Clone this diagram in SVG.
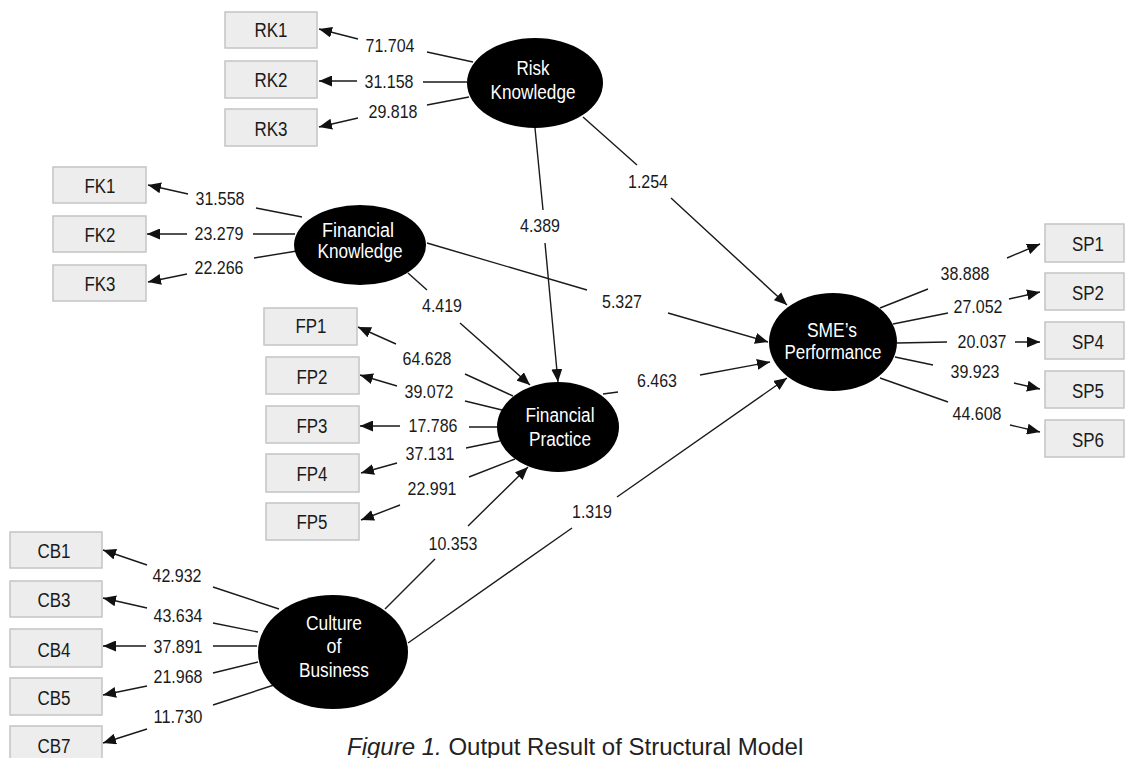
<svg xmlns="http://www.w3.org/2000/svg" width="1125" height="758" viewBox="0 0 1125 758">
<style>
.box{fill:#ededed;stroke:#c4c4c4;stroke-width:1.5}
.lat{fill:#000}
.bt{font-family:"Liberation Sans",Arial,sans-serif;font-size:20px;fill:#1a1a1a;text-anchor:middle}
.lt{font-family:"Liberation Sans",Arial,sans-serif;font-size:20px;fill:#fff;text-anchor:middle}
.num{font-family:"Liberation Sans",Arial,sans-serif;font-size:19px;fill:#1a1a1a;text-anchor:middle}
.con{fill:none;stroke:#1a1a1a;stroke-width:1.4;marker-end:url(#ah)}
.cap{font-family:"Liberation Sans",Arial,sans-serif;font-size:24px;fill:#222}
</style>
<defs>
<marker id="ah" markerUnits="userSpaceOnUse" markerWidth="14" markerHeight="11" refX="13" refY="5.5" orient="auto">
<path d="M0,0 L13,5.5 L0,11 z" fill="#111"/>
</marker>
</defs>
<rect width="1125" height="758" fill="#fff"/>

<g id="connectors">
<path class="con" d="M473,62 L427,52 M358,39 L319,29"/>
<path class="con" d="M467,82 L423,82 M357,81 L319,81"/>
<path class="con" d="M469,97 L427,105 M358,118 L319,127"/>
<path class="con" d="M535,128 L543,210 M545,243 L558,382"/>
<path class="con" d="M583,117 L637,165 M671,198 L787,305"/>
<path class="con" d="M302,217 L256,208 M188,194 L148,185"/>
<path class="con" d="M295,234 L253,234 M187,234 L147,234"/>
<path class="con" d="M297,251 L254,258 M187,274 L148,282"/>
<path class="con" d="M408,273 L427,290 M460,323 L530,385"/>
<path class="con" d="M427,243 L587,290 M668,313 L768,342"/>
<path class="con" d="M513,396 L465,374 M396,344 L358,327"/>
<path class="con" d="M502,410 L465,401 M397,386 L360,375"/>
<path class="con" d="M498,427 L469,427 M400,426 L360,426"/>
<path class="con" d="M500,441 L466,448 M397,463 L361,473"/>
<path class="con" d="M515,459 L469,477 M400,505 L361,520"/>
<path class="con" d="M603,394 L618,392 M700,375 L770,362"/>
<path class="con" d="M279,609 L213,587 M147,565 L103,550"/>
<path class="con" d="M258,632 L213,623 M147,608 L103,598"/>
<path class="con" d="M257,646 L213,646 M146,646 L103,646"/>
<path class="con" d="M258,662 L213,673 M147,686 L103,695"/>
<path class="con" d="M277,684 L213,705 M147,729 L103,743"/>
<path class="con" d="M385,609 L435,559 M468,526 L528,467"/>
<path class="con" d="M408,643 L572,528 M617,497 L787,378"/>
<path class="con" d="M880,308 L928,289 M1007,258 L1040,244"/>
<path class="con" d="M893,324 L948,313 M1009,299 L1040,292"/>
<path class="con" d="M897,343 L947,342 M1015,342 L1040,342"/>
<path class="con" d="M895,357 L933,365 M1014,383 L1040,389"/>
<path class="con" d="M880,378 L948,402 M1010,425 L1040,432"/>
</g>

<g id="labels">
<text class="num" x="390" y="52" textLength="49" lengthAdjust="spacingAndGlyphs">71.704</text>
<text class="num" x="389" y="88" textLength="49" lengthAdjust="spacingAndGlyphs">31.158</text>
<text class="num" x="393" y="118" textLength="49" lengthAdjust="spacingAndGlyphs">29.818</text>
<text class="num" x="540" y="232" textLength="40" lengthAdjust="spacingAndGlyphs">4.389</text>
<text class="num" x="648" y="188" textLength="40" lengthAdjust="spacingAndGlyphs">1.254</text>
<text class="num" x="220" y="205" textLength="49" lengthAdjust="spacingAndGlyphs">31.558</text>
<text class="num" x="219" y="240" textLength="49" lengthAdjust="spacingAndGlyphs">23.279</text>
<text class="num" x="219" y="274" textLength="49" lengthAdjust="spacingAndGlyphs">22.266</text>
<text class="num" x="442" y="312" textLength="40" lengthAdjust="spacingAndGlyphs">4.419</text>
<text class="num" x="622" y="308" textLength="40" lengthAdjust="spacingAndGlyphs">5.327</text>
<text class="num" x="427" y="365" textLength="49" lengthAdjust="spacingAndGlyphs">64.628</text>
<text class="num" x="429" y="398" textLength="49" lengthAdjust="spacingAndGlyphs">39.072</text>
<text class="num" x="433" y="432" textLength="49" lengthAdjust="spacingAndGlyphs">17.786</text>
<text class="num" x="430" y="460" textLength="49" lengthAdjust="spacingAndGlyphs">37.131</text>
<text class="num" x="432" y="495" textLength="49" lengthAdjust="spacingAndGlyphs">22.991</text>
<text class="num" x="657" y="387" textLength="40" lengthAdjust="spacingAndGlyphs">6.463</text>
<text class="num" x="177" y="582" textLength="49" lengthAdjust="spacingAndGlyphs">42.932</text>
<text class="num" x="178" y="622" textLength="49" lengthAdjust="spacingAndGlyphs">43.634</text>
<text class="num" x="178" y="653" textLength="49" lengthAdjust="spacingAndGlyphs">37.891</text>
<text class="num" x="178" y="683" textLength="49" lengthAdjust="spacingAndGlyphs">21.968</text>
<text class="num" x="178" y="723" textLength="49" lengthAdjust="spacingAndGlyphs">11.730</text>
<text class="num" x="453" y="550" textLength="49" lengthAdjust="spacingAndGlyphs">10.353</text>
<text class="num" x="592" y="518" textLength="40" lengthAdjust="spacingAndGlyphs">1.319</text>
<text class="num" x="965" y="280" textLength="49" lengthAdjust="spacingAndGlyphs">38.888</text>
<text class="num" x="978" y="313" textLength="49" lengthAdjust="spacingAndGlyphs">27.052</text>
<text class="num" x="982" y="348" textLength="49" lengthAdjust="spacingAndGlyphs">20.037</text>
<text class="num" x="975" y="378" textLength="49" lengthAdjust="spacingAndGlyphs">39.923</text>
<text class="num" x="977" y="420" textLength="49" lengthAdjust="spacingAndGlyphs">44.608</text>
</g>

<g id="RK1"><rect class="box" x="225" y="12" width="92" height="36"/><text class="bt" x="271" y="37" textLength="33" lengthAdjust="spacingAndGlyphs">RK1</text></g>
<g id="RK2"><rect class="box" x="225" y="61" width="92" height="37"/><text class="bt" x="271" y="87" textLength="33" lengthAdjust="spacingAndGlyphs">RK2</text></g>
<g id="RK3"><rect class="box" x="225" y="109" width="92" height="37"/><text class="bt" x="271" y="136" textLength="33" lengthAdjust="spacingAndGlyphs">RK3</text></g>

<g id="FK1"><rect class="box" x="53" y="167" width="93" height="36"/><text class="bt" x="100" y="193" textLength="31" lengthAdjust="spacingAndGlyphs">FK1</text></g>
<g id="FK2"><rect class="box" x="53" y="216" width="93" height="36"/><text class="bt" x="100" y="242" textLength="31" lengthAdjust="spacingAndGlyphs">FK2</text></g>
<g id="FK3"><rect class="box" x="53" y="265" width="93" height="36"/><text class="bt" x="100" y="291" textLength="31" lengthAdjust="spacingAndGlyphs">FK3</text></g>

<g id="FP1"><rect class="box" x="264" y="308" width="93" height="37"/><text class="bt" x="311" y="333" textLength="31" lengthAdjust="spacingAndGlyphs">FP1</text></g>
<g id="FP2"><rect class="box" x="266" y="357" width="93" height="37"/><text class="bt" x="312" y="384" textLength="31" lengthAdjust="spacingAndGlyphs">FP2</text></g>
<g id="FP3"><rect class="box" x="266" y="406" width="93" height="37"/><text class="bt" x="312" y="433" textLength="31" lengthAdjust="spacingAndGlyphs">FP3</text></g>
<g id="FP4"><rect class="box" x="266" y="454" width="93" height="38"/><text class="bt" x="312" y="481" textLength="31" lengthAdjust="spacingAndGlyphs">FP4</text></g>
<g id="FP5"><rect class="box" x="266" y="503" width="93" height="37"/><text class="bt" x="312" y="529" textLength="31" lengthAdjust="spacingAndGlyphs">FP5</text></g>

<g id="CB1"><rect class="box" x="10" y="532" width="92" height="36"/><text class="bt" x="54" y="558" textLength="33" lengthAdjust="spacingAndGlyphs">CB1</text></g>
<g id="CB3"><rect class="box" x="10" y="581" width="92" height="36"/><text class="bt" x="54" y="607" textLength="33" lengthAdjust="spacingAndGlyphs">CB3</text></g>
<g id="CB4"><rect class="box" x="10" y="629" width="92" height="38"/><text class="bt" x="54" y="657" textLength="33" lengthAdjust="spacingAndGlyphs">CB4</text></g>
<g id="CB5"><rect class="box" x="10" y="678" width="92" height="37"/><text class="bt" x="54" y="705" textLength="33" lengthAdjust="spacingAndGlyphs">CB5</text></g>
<g id="CB7"><rect class="box" x="10" y="726" width="92" height="37"/><text class="bt" x="54" y="753" textLength="33" lengthAdjust="spacingAndGlyphs">CB7</text></g>

<g id="SP1"><rect class="box" x="1045" y="224" width="79" height="38"/><text class="bt" x="1088" y="251" textLength="32" lengthAdjust="spacingAndGlyphs">SP1</text></g>
<g id="SP2"><rect class="box" x="1045" y="273" width="79" height="37"/><text class="bt" x="1088" y="300" textLength="32" lengthAdjust="spacingAndGlyphs">SP2</text></g>
<g id="SP4"><rect class="box" x="1045" y="322" width="79" height="37"/><text class="bt" x="1088" y="349" textLength="32" lengthAdjust="spacingAndGlyphs">SP4</text></g>
<g id="SP5"><rect class="box" x="1045" y="371" width="79" height="37"/><text class="bt" x="1088" y="398" textLength="32" lengthAdjust="spacingAndGlyphs">SP5</text></g>
<g id="SP6"><rect class="box" x="1045" y="420" width="79" height="37"/><text class="bt" x="1088" y="447" textLength="32" lengthAdjust="spacingAndGlyphs">SP6</text></g>

<g id="RiskKnowledge"><ellipse class="lat" cx="535" cy="83" rx="68" ry="45"/>
<text class="lt" x="533" y="75" textLength="33" lengthAdjust="spacingAndGlyphs">Risk</text>
<text class="lt" x="533" y="99" textLength="85" lengthAdjust="spacingAndGlyphs">Knowledge</text></g>

<g id="FinancialKnowledge"><ellipse class="lat" cx="360" cy="245" rx="66" ry="40"/>
<text class="lt" x="358" y="237" textLength="72" lengthAdjust="spacingAndGlyphs">Financial</text>
<text class="lt" x="360" y="258" textLength="85" lengthAdjust="spacingAndGlyphs">Knowledge</text></g>

<g id="FinancialPractice"><ellipse class="lat" cx="558" cy="427" rx="61" ry="45"/>
<text class="lt" x="560" y="422" textLength="69" lengthAdjust="spacingAndGlyphs">Financial</text>
<text class="lt" x="560" y="446" textLength="62" lengthAdjust="spacingAndGlyphs">Practice</text></g>

<g id="SMEPerformance"><ellipse class="lat" cx="833" cy="342" rx="64" ry="49"/>
<text class="lt" x="832" y="337" textLength="50" lengthAdjust="spacingAndGlyphs">SME’s</text>
<text class="lt" x="833" y="359" textLength="97" lengthAdjust="spacingAndGlyphs">Performance</text></g>

<g id="CultureOfBusiness"><ellipse class="lat" cx="333" cy="652" rx="75" ry="57"/>
<text class="lt" x="334" y="630" textLength="56" lengthAdjust="spacingAndGlyphs">Culture</text>
<text class="lt" x="334" y="653" textLength="15" lengthAdjust="spacingAndGlyphs">of</text>
<text class="lt" x="334" y="677" textLength="70" lengthAdjust="spacingAndGlyphs">Business</text></g>

<text class="cap" x="347" y="755"><tspan font-style="italic">Figure 1.</tspan> Output Result of Structural Model</text>
</svg>
